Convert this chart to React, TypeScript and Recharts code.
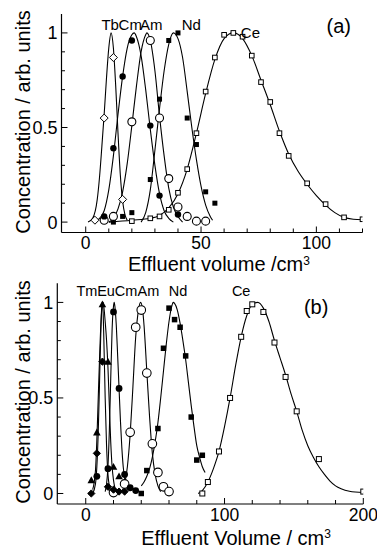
import React from 'react';
import { ComposedChart, Line, Scatter, XAxis, YAxis } from 'recharts';

type P = [number, number];

// ---------- Panel (a) ----------
const tbPtsA: P[] = [[4, 0.01], [8, 0.55], [12, 0.87], [16, 0.12]];
const tbCurveA: P[] = [[1, 0], [3, 0.02], [5, 0.12], [6, 0.24], [7, 0.4], [8, 0.57], [9, 0.76], [10, 0.92], [11, 1.0], [12, 0.92], [13, 0.72], [14, 0.47], [15, 0.25], [16, 0.11], [17, 0.04], [18, 0.01]];
const cmPtsA: P[] = [[8, 0.03], [12, 0.39], [16, 0.77], [20, 0.96], [28, 0.51], [32, 0.14], [40, 0.04]];
const cmCurveA: P[] = [[4, 0], [6, 0.02], [8, 0.06], [10, 0.17], [12, 0.35], [14, 0.57], [16, 0.77], [18, 0.92], [20, 0.99], [21, 1.0], [22, 0.98], [24, 0.88], [26, 0.7], [28, 0.49], [30, 0.3], [32, 0.15], [34, 0.06], [36, 0.02], [38, 0.0]];
const amPtsA: P[] = [[8, 0.01], [12, 0.03], [20, 0.53], [28, 0.96], [32, 0.55], [36, 0.23], [40, 0.08], [44, 0.03], [48, 0.005], [52, 0.005]];
const amCurveA: P[] = [[10, 0], [12, 0.02], [14, 0.07], [16, 0.16], [18, 0.31], [20, 0.51], [22, 0.72], [24, 0.9], [26, 0.99], [26.5, 1.0], [28, 0.96], [30, 0.8], [32, 0.56], [34, 0.35], [36, 0.18], [38, 0.08], [40, 0.03], [42, 0.0]];
const ndPtsA: P[] = [[12, 0.0], [16, 0.03], [20, 0.05], [28, 0.225], [32, 0.65], [36, 0.96], [40, 1.0], [44, 0.55], [48, 0.41], [52, 0.16], [56, 0.1]];
const ndCurveA: P[] = [[24, 0], [26, 0.05], [28, 0.17], [30, 0.38], [32, 0.6], [34, 0.8], [36, 0.94], [38, 1.0], [40, 0.97], [42, 0.87], [44, 0.69], [46, 0.5], [48, 0.33], [50, 0.19], [52, 0.09], [54, 0.03], [55, 0.01]];
const cePtsA: P[] = [[20, 0.005], [28, 0.02], [32, 0.03], [36, 0.065], [40, 0.155], [44, 0.28], [48, 0.47], [52, 0.69], [56, 0.87], [60, 0.99], [64, 1.0], [68, 0.98], [72, 0.88], [76, 0.74], [80, 0.635], [84, 0.47], [88, 0.35], [96, 0.205], [104, 0.095], [112, 0.025], [120, 0.015]];
const ceCurveA: P[] = [[10, 0], [20, 0.01], [28, 0.02], [32, 0.035], [36, 0.075], [40, 0.15], [44, 0.28], [48, 0.47], [52, 0.68], [56, 0.86], [60, 0.97], [64, 1.0], [68, 0.97], [72, 0.88], [76, 0.75], [80, 0.62], [84, 0.48], [88, 0.36], [92, 0.27], [96, 0.2], [100, 0.14], [104, 0.09], [108, 0.05], [112, 0.025], [116, 0.015], [120, 0.012]];
const labelsA = [
  { name: 'Tb', x: 10.6, y: 1.045 },
  { name: 'Cm', x: 19.3, y: 1.045 },
  { name: 'Am', x: 28.4, y: 1.045 },
  { name: 'Nd', x: 45.8, y: 1.045 },
  { name: 'Ce', x: 71.4, y: 1.0 },
];
const tagA = [{ name: '(a)', x: 109.7, y: 1.035 }];
const xTicksA = [0, 10, 20, 30, 40, 50, 60, 70, 80, 90, 100, 110, 120];
const xTopTicksA = [-10, -5, 0, 5, 10, 15, 20, 25, 30, 35, 40, 45, 50, 55, 60, 65, 70, 75, 80, 85, 90, 95, 100, 105, 110, 115, 120];
const xMajorA = [0, 50, 100];

// ---------- Panel (b) ----------
const tmPtsB: P[] = [[4, 0.07], [8, 0.32], [12, 0.99], [16, 0.69], [20, 0.14], [24, 0.09]];
const tmCurveB: P[] = [[5, 0.02], [7, 0.12], [8, 0.28], [9, 0.5], [10, 0.72], [11, 0.9], [12, 0.99], [12.5, 1.0], [13, 0.98], [14, 0.9], [15, 0.8], [16, 0.66], [17, 0.46], [18, 0.27], [19, 0.14], [20, 0.07], [21, 0.03], [22, 0.01]];
const euPtsB: P[] = [[4, 0.0], [8, 0.21], [12, 0.69], [16, 0.035], [20, 0.02], [24, 0.01], [28, 0.01]];
const euCurveB: P[] = [[5, 0], [7, 0.05], [8, 0.14], [9, 0.32], [10, 0.6], [11, 0.88], [11.7, 1.0], [12.5, 0.95], [13, 0.82], [14, 0.5], [15, 0.25], [16, 0.1], [17, 0.04], [18, 0.01]];
const cmPtsB: P[] = [[8, 0.09], [16, 0.13], [20, 0.95], [24, 0.55], [28, 0.1], [32, 0.03], [36, 0.015]];
const cmCurveB: P[] = [[14, 0.01], [15, 0.05], [16, 0.14], [17, 0.33], [18, 0.6], [19, 0.86], [20, 0.98], [20.5, 1.0], [21, 0.98], [22, 0.88], [23, 0.72], [24, 0.55], [25, 0.38], [26, 0.24], [27, 0.14], [28, 0.08], [29, 0.04], [30, 0.02]];
const amPtsB: P[] = [[20, 0.005], [28, 0.05], [32, 0.32], [36, 0.87], [40, 0.96], [44, 0.63], [48, 0.26], [52, 0.11], [56, 0.035], [60, 0.01]];
const amCurveB: P[] = [[26, 0.01], [28, 0.05], [30, 0.14], [32, 0.31], [34, 0.56], [36, 0.82], [38, 0.96], [39.5, 1.0], [41, 0.96], [42, 0.88], [44, 0.64], [46, 0.4], [48, 0.21], [50, 0.1], [52, 0.04], [54, 0.01]];
const ndPtsB: P[] = [[40, 0.0], [44, 0.12], [52, 0.34], [56, 0.76], [60, 0.97], [64, 0.91], [68, 0.87], [72, 0.72], [76, 0.4], [80, 0.175], [84, 0.2]];
const ndCurveB: P[] = [[40, 0.04], [42, 0.06], [44, 0.09], [46, 0.13], [48, 0.19], [50, 0.27], [52, 0.37], [54, 0.5], [56, 0.64], [58, 0.78], [60, 0.9], [62, 0.98], [63, 1.0], [64, 0.995], [66, 0.96], [68, 0.89], [70, 0.8], [72, 0.7], [74, 0.58], [76, 0.46], [78, 0.35], [80, 0.25], [82, 0.19], [84, 0.14], [86, 0.11]];
const cePtsB: P[] = [[84, 0.0], [88, 0.06], [96, 0.22], [104, 0.5], [112, 0.82], [116, 0.955], [120, 0.99], [128, 0.95], [136, 0.79], [144, 0.61], [152, 0.43], [168, 0.18], [200, 0.01]];
const ceCurveB: P[] = [[81, 0], [84, 0.015], [88, 0.06], [92, 0.13], [96, 0.22], [100, 0.35], [104, 0.5], [108, 0.67], [112, 0.82], [116, 0.93], [120, 0.99], [124, 1.0], [128, 0.97], [132, 0.9], [136, 0.8], [140, 0.71], [144, 0.62], [148, 0.52], [152, 0.43], [156, 0.33], [160, 0.25], [164, 0.19], [168, 0.14], [172, 0.1], [176, 0.065], [180, 0.04], [184, 0.025], [190, 0.012], [200, 0.005]];
const labelsB = [
  { name: 'Tm', x: 0.8, y: 1.06 },
  { name: 'Eu', x: 14.6, y: 1.06 },
  { name: 'Cm', x: 29, y: 1.06 },
  { name: 'Am', x: 45.2, y: 1.06 },
  { name: 'Nd', x: 66.5, y: 1.06 },
  { name: 'Ce', x: 112, y: 1.06 },
];
const tagB = [{ name: '(b)', x: 166, y: 0.975 }];
const xTicksB = [0, 20, 40, 60, 80, 100, 120, 140, 160, 180, 200];
const xTopTicksB = [-20, 0, 20, 40, 60, 80, 100, 120, 140, 160, 180, 200];
const xMajorB = [0, 100, 200];

const yTicks = [0, 0.1, 0.2, 0.3, 0.4, 0.5, 0.6, 0.7, 0.8, 0.9, 1.0];
const yMajor = [0, 0.5, 1];
const yLabels: Record<string, string> = { '0': '0', '0.5': '0.5', '1': '1' };

const FONT = '"Liberation Sans", Arial, Helvetica, sans-serif';
const xy = (a: P[]) => a.map(([x, y]) => ({ x, y }));

// ---------- marker shapes ----------
const openCircle = (r: number) => (p: any) => <circle cx={p.cx} cy={p.cy} r={r} fill="#fff" stroke="#000" strokeWidth={1.1} />;
const filledCircle = (r: number) => (p: any) => <circle cx={p.cx} cy={p.cy} r={r} fill="#000" />;
const openSquare = (s: number) => (p: any) => <rect x={p.cx - s / 2} y={p.cy - s / 2} width={s} height={s} fill="#fff" stroke="#000" strokeWidth={1} />;
const filledSquare = (s: number) => (p: any) => <rect x={p.cx - s / 2} y={p.cy - s / 2} width={s} height={s} fill="#000" />;
const diamond = (h: number, fill: string) => (p: any) => (
  <polygon points={`${p.cx},${p.cy - h} ${p.cx + h},${p.cy} ${p.cx},${p.cy + h} ${p.cx - h},${p.cy}`} fill={fill} stroke="#000" strokeWidth={1} />
);
const triangle = (h: number) => (p: any) => (
  <polygon points={`${p.cx},${p.cy - h} ${p.cx + h},${p.cy + h * 0.8} ${p.cx - h},${p.cy + h * 0.8}`} fill="#000" />
);
const textShape = (size: number) => (p: any) => (
  <text x={p.cx} y={p.cy} textAnchor="middle" dominantBaseline="central" fontSize={size} fontFamily={FONT} fill="#000">
    {p.payload.name}
  </text>
);

// ---------- tick renderers ----------
const makeXTick = (majors: number[], dir: number, labels: boolean) => (props: any) => {
  const { x, y, payload } = props;
  const v = payload.value;
  const isMajor = majors.includes(v);
  const len = isMajor ? 6 : 4;
  return (
    <g>
      <line x1={x} x2={x} y1={y} y2={y - dir * len} stroke="#000" strokeWidth={1} />
      {labels && isMajor && (
        <text x={x} y={y + 16.5} textAnchor="middle" fontSize={17.5} fontFamily={FONT} fill="#000">
          {v}
        </text>
      )}
    </g>
  );
};
const makeYTick = (dir: number, labels: boolean) => (props: any) => {
  const { x, y, payload } = props;
  const v = payload.value;
  const isMajor = yMajor.includes(v);
  const len = isMajor ? 6 : 3.5;
  return (
    <g>
      <line x1={x} x2={x + dir * len} y1={y} y2={y} stroke="#000" strokeWidth={1} />
      {labels && isMajor && (
        <text x={x - 4} y={y + 6.5} textAnchor="end" fontSize={18} fontFamily={FONT} fill="#000">
          {yLabels[String(v)]}
        </text>
      )}
    </g>
  );
};

type Series = { curve: P[]; pts: P[]; shape: (p: any) => React.ReactElement };

const Panel = (cfg: {
  xDomain: [number, number];
  xTicks: number[];
  xTop: number[];
  xMajor: number[];
  margin: { top: number; right: number; bottom: number; left: number };
  yWidth: number;
  xHeight: number;
  series: Series[];
  labels: { name: string; x: number; y: number }[];
  tag: { name: string; x: number; y: number }[];
  labelSize: number;
}) => {
  const axisLine = { stroke: '#000', strokeWidth: 1.2 };
  return (
    <ComposedChart width={377} height={275} margin={cfg.margin}>
      <XAxis dataKey="x" type="number" domain={cfg.xDomain} allowDataOverflow ticks={cfg.xTicks} interval={0}
        tickSize={0} tickMargin={0} height={cfg.xHeight} axisLine={axisLine} tickLine={false}
        tick={makeXTick(cfg.xMajor, 1, true)} />
      <XAxis xAxisId="top" orientation="top" dataKey="x" type="number" domain={cfg.xDomain} allowDataOverflow
        ticks={cfg.xTop} interval={0} tickSize={0} tickMargin={0} height={0} axisLine={axisLine} tickLine={false}
        tick={makeXTick(cfg.xMajor, -1, false)} />
      <YAxis dataKey="y" type="number" domain={[-0.055, 1.1]} allowDataOverflow ticks={yTicks} interval={0}
        tickSize={0} tickMargin={0} width={cfg.yWidth} axisLine={axisLine} tickLine={false}
        tick={makeYTick(1, true)} />
      <YAxis yAxisId="right" orientation="right" dataKey="y" type="number" domain={[-0.055, 1.1]} allowDataOverflow
        ticks={yTicks} interval={0} tickSize={0} tickMargin={0} width={0} axisLine={axisLine} tickLine={false}
        tick={makeYTick(-1, false)} />
      {cfg.series.map((s, i) => (
        <Line key={'l' + i} data={xy(s.curve)} dataKey="y" type="monotone" stroke="#000" strokeWidth={1.1}
          dot={false} activeDot={false} isAnimationActive={false} />
      ))}
      {cfg.series.map((s, i) => (
        <Scatter key={'s' + i} data={xy(s.pts)} dataKey="y" shape={s.shape} isAnimationActive={false} />
      ))}
      <Scatter data={cfg.labels} dataKey="y" shape={textShape(cfg.labelSize)} isAnimationActive={false} />
      <Scatter data={cfg.tag} dataKey="y" shape={textShape(20)} isAnimationActive={false} />
    </ComposedChart>
  );
};

export default function App() {
  const seriesA: Series[] = [
    { curve: ceCurveA, pts: cePtsA, shape: openSquare(4.6) },
    { curve: ndCurveA, pts: ndPtsA, shape: filledSquare(5) },
    { curve: amCurveA, pts: amPtsA, shape: openCircle(4) },
    { curve: cmCurveA, pts: cmPtsA, shape: filledCircle(3.2) },
    { curve: tbCurveA, pts: tbPtsA, shape: diamond(4, '#fff') },
  ];
  const seriesB: Series[] = [
    { curve: ceCurveB, pts: cePtsB, shape: openSquare(5) },
    { curve: ndCurveB, pts: ndPtsB, shape: filledSquare(5.5) },
    { curve: amCurveB, pts: amPtsB, shape: openCircle(4.3) },
    { curve: cmCurveB, pts: cmPtsB, shape: filledCircle(3.4) },
    { curve: euCurveB, pts: euPtsB, shape: diamond(3.6, '#000') },
    { curve: tmCurveB, pts: tmPtsB, shape: triangle(3.8) },
  ];
  return (
    <div style={{ position: 'absolute', left: 0, top: 0, width: 377, height: 550, background: '#fff', overflow: 'hidden' }}>
      <div style={{ position: 'absolute', left: 0, top: 0 }}>
        <Panel xDomain={[-10.5, 120]} xTicks={xTicksA} xTop={xTopTicksA} xMajor={xMajorA}
          margin={{ top: 14, right: 14.5, bottom: 0, left: 0 }} yWidth={61.5} xHeight={42.5}
          series={seriesA} labels={labelsA} tag={tagA} labelSize={15} />
      </div>
      <div style={{ position: 'absolute', left: 0, top: 275 }}>
        <Panel xDomain={[-20.5, 200]} xTicks={xTicksB} xTop={xTopTicksB} xMajor={xMajorB}
          margin={{ top: 8.3, right: 13.7, bottom: 0, left: 0 }} yWidth={57.3} xHeight={46}
          series={seriesB} labels={labelsB} tag={tagB} labelSize={14.5} />
      </div>
      <svg width={377} height={550} style={{ position: 'absolute', left: 0, top: 0, pointerEvents: 'none' }}>
        <text transform="translate(23,122) rotate(-90)" textAnchor="middle" dominantBaseline="central" fontSize={20} fontFamily={FONT} fill="#000">
          Concentration / arb. units
        </text>
        <text x={219} y={271} textAnchor="middle" fontSize={20} fontFamily={FONT} fill="#000">
          Effluent volume /cm<tspan dy={-6} fontSize={12}>3</tspan>
        </text>
        <text transform="translate(23,392) rotate(-90)" textAnchor="middle" dominantBaseline="central" fontSize={20} fontFamily={FONT} fill="#000">
          Concentration / arb. units
        </text>
        <text x={236} y={545} textAnchor="middle" fontSize={20} fontFamily={FONT} fill="#000">
          Effluent Volume / cm<tspan dy={-7} fontSize={12}>3</tspan>
        </text>
      </svg>
    </div>
  );
}
